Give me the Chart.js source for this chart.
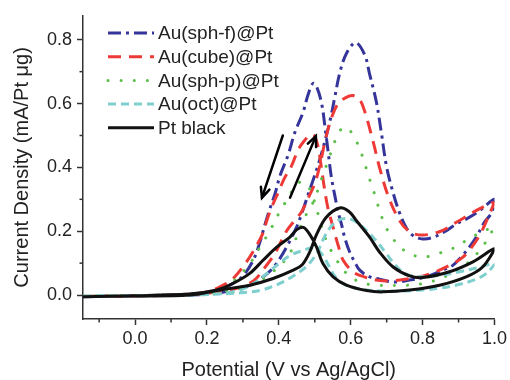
<!DOCTYPE html>
<html>
<head>
<meta charset="utf-8">
<script src="https://cdn.jsdelivr.net/npm/chart.js@4.4.1/dist/chart.umd.min.js"></script>
<style>
  html, body { margin: 0; padding: 0; background: #fff; }
  #wrap { width: 510px; height: 380px; }
</style>
</head>
<body>
<div id="wrap"><canvas id="cv"></canvas></div>
<script>
// series names (legend order)
const names = ['Au(sph-f)@Pt', 'Au(cube)@Pt', 'Au(sph-p)@Pt', 'Au(oct)@Pt', 'Pt black'];

// [potential V, current mA/Pt ug] — forward scan then backward scan
const sphf = [
  [-0.145,-0.005],[0,-0.003],[0.1,0],[0.2,0.002],[0.25,0.01],[0.292,0.021],[0.329,0.036],[0.356,0.057],[0.38,0.08],
  [0.403,0.115],[0.426,0.16],[0.449,0.212],[0.465,0.26],[0.486,0.33],[0.51,0.41],[0.53,0.49],[0.545,0.56],[0.556,0.622],
  [0.569,0.694],[0.588,0.757],[0.614,0.791],[0.639,0.752],[0.653,0.69],[0.671,0.607],[0.685,0.51],[0.70,0.40],[0.718,0.32],
  [0.735,0.26],[0.755,0.21],[0.775,0.185],[0.80,0.176],[0.829,0.181],[0.866,0.202],[0.894,0.223],[0.921,0.238],[0.958,0.264],[1.0,0.30],
  [0.993,0.26],[0.972,0.228],[0.949,0.181],[0.93,0.15],[0.907,0.119],[0.884,0.093],[0.856,0.078],[0.81,0.057],[0.764,0.047],
  [0.718,0.041],[0.68,0.05],[0.653,0.057],[0.625,0.078],[0.611,0.104],[0.597,0.135],[0.583,0.181],[0.574,0.223],[0.565,0.26],
  [0.556,0.31],[0.546,0.37],[0.537,0.45],[0.528,0.53],[0.519,0.60],[0.505,0.653],[0.495,0.663],[0.481,0.627],[0.468,0.575],
  [0.444,0.508],[0.426,0.44],[0.403,0.373],[0.39,0.32],[0.375,0.27],[0.361,0.22],[0.347,0.165],[0.329,0.11],[0.3,0.06],
  [0.264,0.031],[0.22,0.01],[0.15,0.002],[0,-0.002],[-0.145,-0.005]
];
const cube = [
  [-0.145,-0.004],[0,-0.002],[0.15,0.002],[0.22,0.008],[0.28,0.02],[0.33,0.045],[0.36,0.085],[0.389,0.13],[0.421,0.2],
  [0.445,0.235],[0.463,0.26],[0.48,0.3],[0.5,0.35],[0.515,0.41],[0.53,0.49],[0.548,0.56],[0.565,0.6],[0.585,0.618],
  [0.606,0.625],[0.625,0.612],[0.639,0.575],[0.662,0.482],[0.68,0.40],[0.704,0.311],[0.736,0.233],[0.765,0.198],[0.8,0.188],
  [0.85,0.2],[0.894,0.228],[0.958,0.27],[1.0,0.29],
  [0.99,0.264],[0.96,0.19],[0.93,0.14],[0.907,0.114],[0.875,0.093],[0.83,0.07],[0.79,0.057],[0.72,0.045],[0.671,0.047],
  [0.63,0.06],[0.606,0.073],[0.579,0.109],[0.565,0.156],[0.551,0.212],[0.536,0.275],[0.525,0.347],[0.517,0.41],[0.508,0.47],
  [0.498,0.5],[0.488,0.503],[0.472,0.485],[0.454,0.456],[0.435,0.404],[0.415,0.365],[0.398,0.321],[0.38,0.275],[0.367,0.235],
  [0.356,0.195],[0.338,0.155],[0.31,0.104],[0.273,0.052],[0.245,0.031],[0.2,0.01],[0.1,0],[-0.145,-0.005]
];
const sphp = [
  [-0.145,-0.003],[0,-0.001],[0.15,0.001],[0.22,0.005],[0.28,0.018],[0.324,0.031],[0.37,0.062],[0.41,0.1],[0.435,0.14],
  [0.455,0.2],[0.475,0.25],[0.491,0.28],[0.508,0.327],[0.522,0.375],[0.539,0.427],[0.556,0.482],[0.579,0.526],[0.598,0.515],
  [0.616,0.482],[0.634,0.43],[0.648,0.378],[0.662,0.332],[0.676,0.28],[0.694,0.223],[0.717,0.177],[0.755,0.135],[0.80,0.119],
  [0.843,0.13],[0.889,0.149],[0.93,0.177],[0.97,0.2],[1.0,0.213],
  [0.985,0.185],[0.972,0.16],[0.935,0.11],[0.898,0.078],[0.852,0.053],[0.806,0.037],[0.755,0.031],[0.671,0.031],[0.625,0.041],
  [0.588,0.068],[0.556,0.119],[0.532,0.171],[0.515,0.23],[0.5,0.29],[0.482,0.34],[0.465,0.355],[0.448,0.345],[0.426,0.305],
  [0.398,0.252],[0.373,0.197],[0.347,0.15],[0.319,0.098],[0.282,0.052],[0.25,0.025],[0.2,0.006],[0.1,0],[-0.145,-0.004]
];
const oct = [
  [-0.145,-0.003],[0,-0.002],[0.15,0],[0.25,0.004],[0.3,0.008],[0.35,0.015],[0.4,0.035],[0.44,0.06],[0.477,0.09],
  [0.505,0.13],[0.525,0.178],[0.545,0.215],[0.568,0.236],[0.588,0.24],[0.611,0.232],[0.644,0.202],[0.671,0.17],[0.699,0.13],
  [0.727,0.09],[0.755,0.065],[0.8,0.057],[0.85,0.062],[0.903,0.073],[0.95,0.085],[1.0,0.098],
  [0.98,0.07],[0.95,0.05],[0.9,0.033],[0.85,0.022],[0.8,0.016],[0.7,0.012],[0.62,0.02],[0.58,0.035],[0.555,0.06],
  [0.535,0.1],[0.515,0.135],[0.495,0.148],[0.468,0.14],[0.431,0.124],[0.394,0.093],[0.366,0.067],[0.329,0.036],[0.28,0.012],
  [0.2,0.002],[0.1,0],[-0.145,-0.003]
];
const ptBlack = [
  [-0.145,-0.005],[0,-0.003],[0.15,0],[0.236,0.016],[0.319,0.031],[0.384,0.052],[0.44,0.078],[0.465,0.095],[0.486,0.135],
  [0.505,0.19],[0.532,0.244],[0.569,0.273],[0.595,0.262],[0.616,0.233],[0.653,0.181],[0.68,0.135],[0.718,0.088],[0.764,0.06],
  [0.80,0.055],[0.875,0.073],[0.94,0.104],[1.0,0.145],
  [0.967,0.088],[0.921,0.057],[0.847,0.031],[0.764,0.016],[0.689,0.01],[0.644,0.014],[0.588,0.031],[0.551,0.057],[0.523,0.098],
  [0.505,0.15],[0.486,0.19],[0.468,0.212],[0.45,0.205],[0.43,0.181],[0.394,0.15],[0.356,0.109],[0.319,0.068],[0.273,0.037],
  [0.227,0.016],[0.15,0.003],[0,-0.002],[-0.145,-0.005]
];

const xTicks = [0.0, 0.2, 0.4, 0.6, 0.8, 1.0];
const yTicks = [0.0, 0.2, 0.4, 0.6, 0.8];
const xMinor = [-0.1, 0.1, 0.3, 0.5, 0.7, 0.9];
const yMinor = [0.1, 0.3, 0.5, 0.7];

// scan direction arrows [x0, y0, x1, y1], head at (x1, y1)
const arrows = [[0.411, 0.50, 0.353, 0.305], [0.431, 0.305, 0.503, 0.498]];

const styles = [
  { color: '#35349a', dash: [13, 5, 3, 5] },
  { color: '#ee3a36', dash: [13, 8] },
  { color: '#5cbf4a', dash: [0.1, 13], cap: 'round' },
  { color: '#7fcfcf', dash: [8, 5] },
  { color: '#111111', dash: [] },
];
const series = [sphf, cube, sphp, oct, ptBlack];
const FONT = '"Liberation Sans", Arial, sans-serif';
const TX = '#222';

const extras = {
  id: 'extras',
  afterDraw(chart) {
    const { ctx, scales: { x, y } } = chart;
    ctx.save();
    // minor ticks
    ctx.strokeStyle = '#333'; ctx.lineWidth = 1.5;
    xMinor.forEach(v => {
      const px = x.getPixelForValue(v);
      ctx.beginPath(); ctx.moveTo(px, y.bottom); ctx.lineTo(px, y.bottom + 3.5); ctx.stroke();
    });
    yMinor.forEach(v => {
      const py = y.getPixelForValue(v);
      ctx.beginPath(); ctx.moveTo(x.left, py); ctx.lineTo(x.left - 3.5, py); ctx.stroke();
    });
    // arrows
    ctx.strokeStyle = '#000'; ctx.lineWidth = 2.5; ctx.lineCap = 'round';
    arrows.forEach(a => {
      const x0 = x.getPixelForValue(a[0]), y0 = y.getPixelForValue(a[1]);
      const x1 = x.getPixelForValue(a[2]), y1 = y.getPixelForValue(a[3]);
      const ang = Math.atan2(y1 - y0, x1 - x0), h = 11, w = 0.42;
      ctx.beginPath(); ctx.moveTo(x0, y0); ctx.lineTo(x1, y1); ctx.stroke();
      ctx.beginPath();
      ctx.moveTo(x1 - h * Math.cos(ang - w), y1 - h * Math.sin(ang - w));
      ctx.lineTo(x1, y1);
      ctx.lineTo(x1 - h * Math.cos(ang + w), y1 - h * Math.sin(ang + w));
      ctx.stroke();
    });
    // legend
    ctx.font = '19px ' + FONT; ctx.textBaseline = 'middle'; ctx.fillStyle = TX;
    names.forEach((n, i) => {
      const ly = 33 + i * 23.7, s = styles[i];
      ctx.strokeStyle = s.color; ctx.lineWidth = 3;
      ctx.lineCap = s.cap || 'butt'; ctx.setLineDash(s.dash);
      ctx.beginPath(); ctx.moveTo(108, ly); ctx.lineTo(154, ly); ctx.stroke();
      ctx.setLineDash([]);
      ctx.fillText(n, 158, ly + 1);
    });
    ctx.restore();
  }
};

new Chart(document.getElementById('cv'), {
  type: 'line',
  data: {
    datasets: series.map((d, i) => ({
      label: names[i],
      data: d.map(p => ({ x: p[0], y: p[1] })),
      borderColor: styles[i].color,
      borderWidth: 3,
      borderDash: styles[i].dash,
      borderCapStyle: styles[i].cap || 'butt',
      pointRadius: 0,
      tension: 0.35,
      fill: false,
      order: 4 - i,
    })).reverse(),
  },
  options: {
    responsive: true,
    maintainAspectRatio: false,
    animation: false,
    layout: { padding: { left: 0, top: 14, right: 14, bottom: 0 } },
    plugins: { legend: { display: false }, tooltip: { enabled: false } },
    scales: {
      x: {
        type: 'linear', min: -0.145, max: 1.0,
        afterBuildTicks: s => { s.ticks = xTicks.map(v => ({ value: v })); },
        afterFit: s => { s.height = 61; },
        grid: { drawOnChartArea: false, drawTicks: true, tickLength: 6, tickWidth: 1.5, tickColor: '#333' },
        border: { color: '#333', width: 1.5 },
        ticks: { color: TX, font: { family: FONT, size: 18 }, padding: 3, maxRotation: 0, callback: v => v.toFixed(1) },
        title: { display: true, text: 'Potential (V vs Ag/AgCl)', color: TX, font: { family: FONT, size: 20, lineHeight: 1 }, padding: { top: 0, bottom: 0 } },
      },
      y: {
        type: 'linear', min: -0.075, max: 0.875,
        afterBuildTicks: s => { s.ticks = yTicks.map(v => ({ value: v })); },
        afterFit: s => { s.width = 83; },
        grid: { drawOnChartArea: false, drawTicks: true, tickLength: 6, tickWidth: 1.5, tickColor: '#333' },
        border: { color: '#333', width: 1.5 },
        ticks: { color: TX, font: { family: FONT, size: 18 }, padding: 5, callback: v => v.toFixed(1) },
        title: { display: true, text: 'Current Density (mA/Pt \u03bcg)', color: TX, font: { family: FONT, size: 20, lineHeight: 1 }, padding: { top: 12, bottom: 0 } },
      },
    },
  },
  plugins: [extras],
});
</script>
</body>
</html>
